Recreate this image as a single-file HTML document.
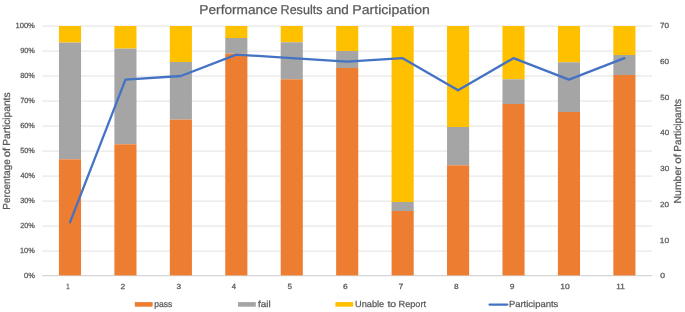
<!DOCTYPE html>
<html lang="en"><head><meta charset="utf-8"><title>Performance Results and Participation</title>
<style>
html,body{margin:0;padding:0;background:#fff;}
body{width:685px;height:312px;overflow:hidden;}
svg{display:block;font-family:"Liberation Sans",sans-serif;}
text{fill:#595959;stroke:#595959;stroke-width:0.25;text-rendering:geometricPrecision;}
</style></head><body>
<svg width="685" height="312" viewBox="0 0 685 312">
<rect width="685" height="312" fill="#ffffff"/>

<g stroke="#e2e2e2" stroke-width="1">
<line x1="42.2" y1="251.10" x2="652.0" y2="251.10"/>
<line x1="42.2" y1="226.10" x2="652.0" y2="226.10"/>
<line x1="42.2" y1="201.10" x2="652.0" y2="201.10"/>
<line x1="42.2" y1="176.10" x2="652.0" y2="176.10"/>
<line x1="42.2" y1="151.10" x2="652.0" y2="151.10"/>
<line x1="42.2" y1="126.10" x2="652.0" y2="126.10"/>
<line x1="42.2" y1="101.10" x2="652.0" y2="101.10"/>
<line x1="42.2" y1="76.10" x2="652.0" y2="76.10"/>
<line x1="42.2" y1="51.10" x2="652.0" y2="51.10"/>
<line x1="42.2" y1="26.10" x2="652.0" y2="26.10"/>
</g>
<line x1="42.2" y1="275.6" x2="652.0" y2="275.6" stroke="#d6d6d6" stroke-width="1.1"/>
<rect x="58.95" y="26.00" width="22.10" height="16.60" fill="#ffc000"/>
<rect x="58.95" y="42.60" width="22.10" height="116.70" fill="#a5a5a5"/>
<rect x="58.95" y="159.30" width="22.10" height="116.10" fill="#ed7d31"/>
<rect x="114.39" y="26.00" width="22.10" height="22.60" fill="#ffc000"/>
<rect x="114.39" y="48.60" width="22.10" height="95.70" fill="#a5a5a5"/>
<rect x="114.39" y="144.30" width="22.10" height="131.10" fill="#ed7d31"/>
<rect x="169.83" y="26.00" width="22.10" height="36.00" fill="#ffc000"/>
<rect x="169.83" y="62.00" width="22.10" height="57.60" fill="#a5a5a5"/>
<rect x="169.83" y="119.60" width="22.10" height="155.80" fill="#ed7d31"/>
<rect x="225.27" y="26.00" width="22.10" height="12.00" fill="#ffc000"/>
<rect x="225.27" y="38.00" width="22.10" height="15.60" fill="#a5a5a5"/>
<rect x="225.27" y="53.60" width="22.10" height="221.80" fill="#ed7d31"/>
<rect x="280.71" y="26.00" width="22.10" height="16.30" fill="#ffc000"/>
<rect x="280.71" y="42.30" width="22.10" height="37.00" fill="#a5a5a5"/>
<rect x="280.71" y="79.30" width="22.10" height="196.10" fill="#ed7d31"/>
<rect x="336.15" y="26.00" width="22.10" height="25.00" fill="#ffc000"/>
<rect x="336.15" y="51.00" width="22.10" height="17.00" fill="#a5a5a5"/>
<rect x="336.15" y="68.00" width="22.10" height="207.40" fill="#ed7d31"/>
<rect x="391.59" y="26.00" width="22.10" height="176.00" fill="#ffc000"/>
<rect x="391.59" y="202.00" width="22.10" height="9.00" fill="#a5a5a5"/>
<rect x="391.59" y="211.00" width="22.10" height="64.40" fill="#ed7d31"/>
<rect x="447.03" y="26.00" width="22.10" height="101.00" fill="#ffc000"/>
<rect x="447.03" y="127.00" width="22.10" height="38.30" fill="#a5a5a5"/>
<rect x="447.03" y="165.30" width="22.10" height="110.10" fill="#ed7d31"/>
<rect x="502.47" y="26.00" width="22.10" height="53.30" fill="#ffc000"/>
<rect x="502.47" y="79.30" width="22.10" height="24.70" fill="#a5a5a5"/>
<rect x="502.47" y="104.00" width="22.10" height="171.40" fill="#ed7d31"/>
<rect x="557.91" y="26.00" width="22.10" height="36.30" fill="#ffc000"/>
<rect x="557.91" y="62.30" width="22.10" height="49.70" fill="#a5a5a5"/>
<rect x="557.91" y="112.00" width="22.10" height="163.40" fill="#ed7d31"/>
<rect x="613.35" y="26.00" width="22.10" height="29.00" fill="#ffc000"/>
<rect x="613.35" y="55.00" width="22.10" height="20.00" fill="#a5a5a5"/>
<rect x="613.35" y="75.00" width="22.10" height="200.40" fill="#ed7d31"/>
<polyline points="70.00,222.43 125.44,79.57 180.88,76.00 236.32,54.57 291.76,58.14 347.20,61.71 402.64,58.14 458.08,90.29 513.52,58.14 568.96,79.57 624.40,58.14" fill="none" stroke="#4472c4" stroke-width="2.3" stroke-linejoin="round" stroke-linecap="round"/>
<text font-size="7.5" y="278.20" stroke-width="0.12"><tspan x="23.96" textLength="10.86" lengthAdjust="spacingAndGlyphs">0%</tspan></text>
<text font-size="7.5" y="253.20" stroke-width="0.12"><tspan x="19.99" textLength="14.83" lengthAdjust="spacingAndGlyphs">10%</tspan></text>
<text font-size="7.5" y="228.20" stroke-width="0.12"><tspan x="20.18" textLength="14.63" lengthAdjust="spacingAndGlyphs">20%</tspan></text>
<text font-size="7.5" y="203.20" stroke-width="0.12"><tspan x="20.27" textLength="14.54" lengthAdjust="spacingAndGlyphs">30%</tspan></text>
<text font-size="7.5" y="178.20" stroke-width="0.12"><tspan x="20.38" textLength="14.42" lengthAdjust="spacingAndGlyphs">40%</tspan></text>
<text font-size="7.5" y="153.20" stroke-width="0.12"><tspan x="20.26" textLength="14.55" lengthAdjust="spacingAndGlyphs">50%</tspan></text>
<text font-size="7.5" y="128.20" stroke-width="0.12"><tspan x="20.18" textLength="14.63" lengthAdjust="spacingAndGlyphs">60%</tspan></text>
<text font-size="7.5" y="103.20" stroke-width="0.12"><tspan x="20.18" textLength="14.64" lengthAdjust="spacingAndGlyphs">70%</tspan></text>
<text font-size="7.5" y="78.20" stroke-width="0.12"><tspan x="20.23" textLength="14.58" lengthAdjust="spacingAndGlyphs">80%</tspan></text>
<text font-size="7.5" y="53.20" stroke-width="0.12"><tspan x="20.21" textLength="14.60" lengthAdjust="spacingAndGlyphs">90%</tspan></text>
<text font-size="7.5" y="28.20" stroke-width="0.12"><tspan x="15.47" textLength="19.35" lengthAdjust="spacingAndGlyphs">100%</tspan></text>
<text font-size="7.5" y="278.30" stroke-width="0.12"><tspan x="660.16" textLength="4.77" lengthAdjust="spacingAndGlyphs">0</tspan></text>
<text font-size="7.5" y="242.59" stroke-width="0.12"><tspan x="659.87" textLength="9.26" lengthAdjust="spacingAndGlyphs">10</tspan></text>
<text font-size="7.5" y="206.87" stroke-width="0.12"><tspan x="660.09" textLength="9.03" lengthAdjust="spacingAndGlyphs">20</tspan></text>
<text font-size="7.5" y="171.16" stroke-width="0.12"><tspan x="660.19" textLength="8.92" lengthAdjust="spacingAndGlyphs">30</tspan></text>
<text font-size="7.5" y="135.44" stroke-width="0.12"><tspan x="660.32" textLength="8.79" lengthAdjust="spacingAndGlyphs">40</tspan></text>
<text font-size="7.5" y="99.73" stroke-width="0.12"><tspan x="660.18" textLength="8.94" lengthAdjust="spacingAndGlyphs">50</tspan></text>
<text font-size="7.5" y="64.01" stroke-width="0.12"><tspan x="660.09" textLength="9.03" lengthAdjust="spacingAndGlyphs">60</tspan></text>
<text font-size="7.5" y="28.30" stroke-width="0.12"><tspan x="660.08" textLength="9.03" lengthAdjust="spacingAndGlyphs">70</tspan></text>
<text font-size="7.5" y="289.3" stroke-width="0.12"><tspan x="66.24" textLength="3.35" lengthAdjust="spacingAndGlyphs">1</tspan></text>
<text font-size="7.5" y="289.3" stroke-width="0.12"><tspan x="120.62" textLength="4.76" lengthAdjust="spacingAndGlyphs">2</tspan></text>
<text font-size="7.5" y="289.3" stroke-width="0.12"><tspan x="176.44" textLength="4.57" lengthAdjust="spacingAndGlyphs">3</tspan></text>
<text font-size="7.5" y="289.3" stroke-width="0.12"><tspan x="231.87" textLength="4.30" lengthAdjust="spacingAndGlyphs">4</tspan></text>
<text font-size="7.5" y="289.3" stroke-width="0.12"><tspan x="287.42" textLength="4.57" lengthAdjust="spacingAndGlyphs">5</tspan></text>
<text font-size="7.5" y="289.3" stroke-width="0.12"><tspan x="342.92" textLength="4.70" lengthAdjust="spacingAndGlyphs">6</tspan></text>
<text font-size="7.5" y="289.3" stroke-width="0.12"><tspan x="398.61" textLength="4.77" lengthAdjust="spacingAndGlyphs">7</tspan></text>
<text font-size="7.5" y="289.3" stroke-width="0.12"><tspan x="453.99" textLength="4.62" lengthAdjust="spacingAndGlyphs">8</tspan></text>
<text font-size="7.5" y="289.3" stroke-width="0.12"><tspan x="509.65" textLength="4.70" lengthAdjust="spacingAndGlyphs">9</tspan></text>
<text font-size="7.5" y="289.3" stroke-width="0.12"><tspan x="560.30" textLength="9.48" lengthAdjust="spacingAndGlyphs">10</tspan></text>
<text font-size="7.5" y="289.3" stroke-width="0.12"><tspan x="616.21" textLength="8.56" lengthAdjust="spacingAndGlyphs">11</tspan></text>
<text font-size="12.9" y="13.8"><tspan x="199.38" textLength="78.23" lengthAdjust="spacingAndGlyphs">Performance</tspan> <tspan x="280.57" textLength="41.88" lengthAdjust="spacingAndGlyphs">Results</tspan> <tspan x="326.33" textLength="22.54" lengthAdjust="spacingAndGlyphs">and</tspan> <tspan x="352.34" textLength="77.57" lengthAdjust="spacingAndGlyphs">Participation</tspan></text>
<text font-size="10.2" transform="translate(10.0,208.9) rotate(-90)" y="0" stroke-width="0.04"><tspan x="-0.81" textLength="50.55" lengthAdjust="spacingAndGlyphs">Percentage</tspan> <tspan x="51.73" textLength="9.35" lengthAdjust="spacingAndGlyphs">of</tspan> <tspan x="63.16" textLength="53.31" lengthAdjust="spacingAndGlyphs">Participants</tspan></text>
<text font-size="10.2" transform="translate(681.3,202.6) rotate(-90)" y="0" stroke-width="0.04"><tspan x="-0.86" textLength="37.13" lengthAdjust="spacingAndGlyphs">Number</tspan> <tspan x="38.81" textLength="9.78" lengthAdjust="spacingAndGlyphs">of</tspan> <tspan x="50.97" textLength="52.79" lengthAdjust="spacingAndGlyphs">Participants</tspan></text>
<rect x="134.8" y="302.1" width="17.8" height="4.6" fill="#ed7d31"/>
<text font-size="8.9" y="306.9"><tspan x="154.25" textLength="18.06" lengthAdjust="spacingAndGlyphs">pass</tspan></text>
<rect x="238" y="302.1" width="17.8" height="4.6" fill="#a5a5a5"/>
<text font-size="8.9" y="306.9"><tspan x="258.06" textLength="12.60" lengthAdjust="spacingAndGlyphs">fail</tspan></text>
<rect x="335.4" y="302.1" width="17.8" height="4.6" fill="#ffc000"/>
<text font-size="8.9" y="306.9"><tspan x="355.09" textLength="29.12" lengthAdjust="spacingAndGlyphs">Unable</tspan> <tspan x="387.44" textLength="8.80" lengthAdjust="spacingAndGlyphs">to</tspan> <tspan x="398.55" textLength="27.52" lengthAdjust="spacingAndGlyphs">Report</tspan></text>
<line x1="489.5" y1="304.6" x2="507.4" y2="304.6" stroke="#4472c4" stroke-width="2.2" stroke-linecap="round"/>
<text font-size="8.9" y="306.9"><tspan x="508.92" textLength="49.42" lengthAdjust="spacingAndGlyphs">Participants</tspan></text>
</svg>
</body></html>
